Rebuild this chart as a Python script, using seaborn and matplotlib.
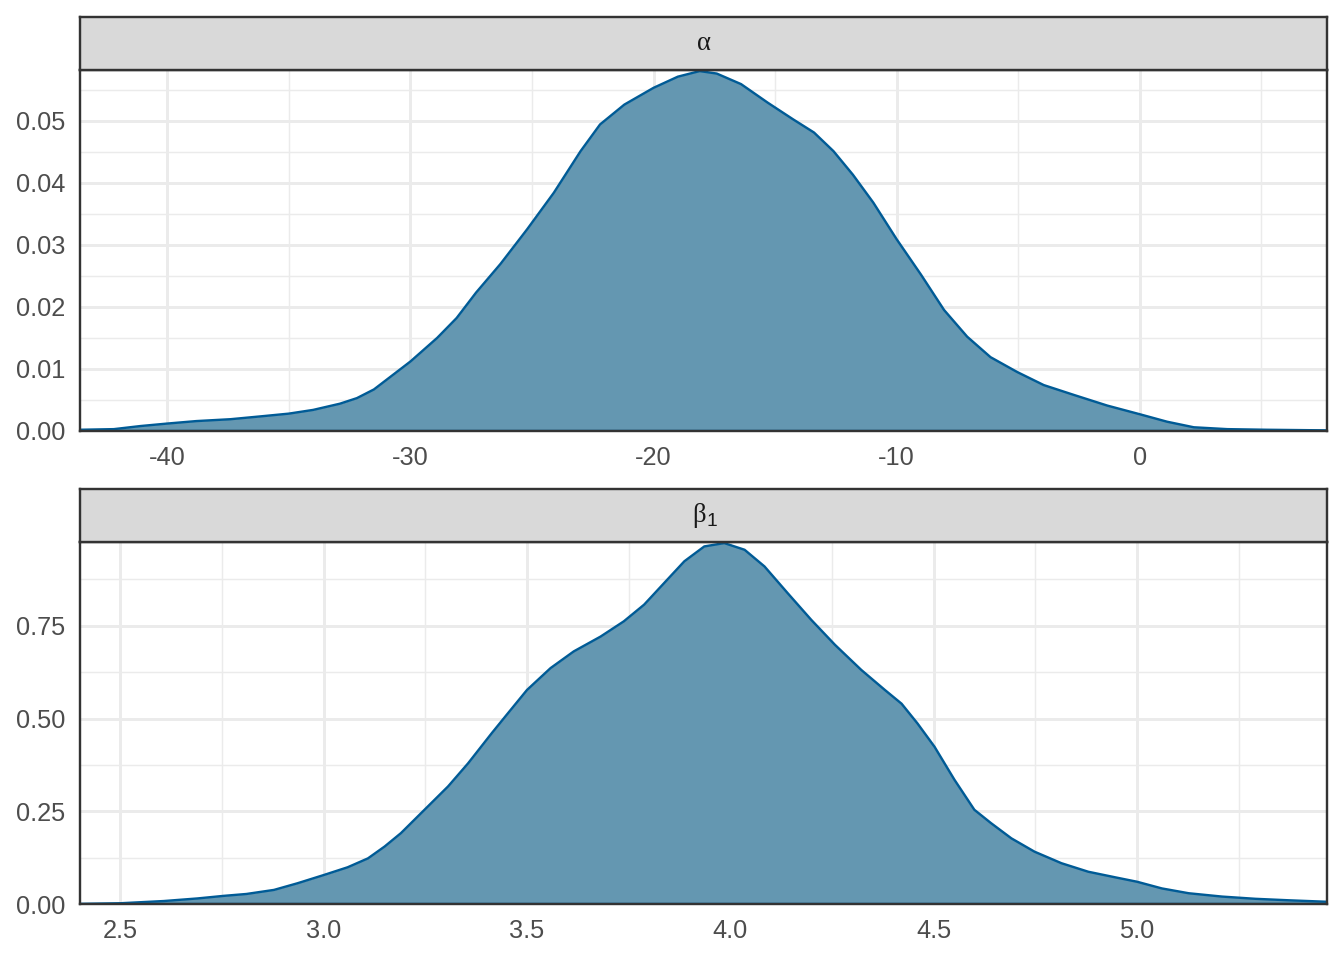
import numpy as np
import pandas as pd
import matplotlib
matplotlib.use("Agg")
import matplotlib.pyplot as plt
import seaborn as sns
from matplotlib.ticker import MultipleLocator

# posterior density of alpha
alpha_x = [-43.59, -42.2, -41.1, -40.0, -38.8, -37.4, -36.05, -35.0, -34.0, -32.9,
           -32.2, -31.5, -30.7, -30.0, -28.9, -28.1, -27.3, -26.3, -25.2, -24.1,
           -23.0, -22.2, -21.2, -20.0, -19.0, -18.1, -17.4, -16.4, -15.3, -14.25,
           -13.4, -12.6, -11.8, -10.96, -10.0, -9.0, -8.05, -7.1, -6.14, -5.04,
           -3.95, -2.7, -1.34, 0.0, 1.12, 2.22, 3.6, 5.23, 7.7]
alpha_y = [0.0002, 0.0003, 0.0008, 0.0012, 0.0016, 0.0019, 0.0024, 0.0028, 0.0034, 0.0044,
           0.0053, 0.0067, 0.0091, 0.0112, 0.0150, 0.0182, 0.0223, 0.0269, 0.0325, 0.0384,
           0.0451, 0.0494, 0.0526, 0.0553, 0.0571, 0.0580, 0.0576, 0.0559, 0.0529, 0.0502,
           0.0481, 0.0451, 0.0413, 0.0368, 0.0309, 0.0252, 0.0195, 0.0152, 0.0119, 0.0095,
           0.0074, 0.0058, 0.0041, 0.0027, 0.0015, 0.0006, 0.0003, 0.0002, 0.0001]

# posterior density of beta_1
beta_x = [2.401, 2.5, 2.607, 2.69, 2.755, 2.81, 2.878, 2.936, 3.0, 3.059,
          3.109, 3.15, 3.19, 3.248, 3.306, 3.355, 3.413, 3.45, 3.5, 3.558,
          3.615, 3.681, 3.738, 3.788, 3.837, 3.887, 3.936, 3.985, 4.035, 4.084,
          4.141, 4.199, 4.257, 4.322, 4.38, 4.421, 4.46, 4.502, 4.551, 4.6,
          4.641, 4.691, 4.748, 4.814, 4.88, 4.946, 5.0, 5.061, 5.127, 5.209,
          5.291, 5.373, 5.467]
beta_y = [0.0, 0.002, 0.008, 0.015, 0.022, 0.027, 0.038, 0.056, 0.078, 0.099,
          0.123, 0.155, 0.191, 0.254, 0.317, 0.379, 0.460, 0.510, 0.577, 0.636,
          0.681, 0.721, 0.762, 0.807, 0.865, 0.924, 0.964, 0.973, 0.955, 0.910,
          0.838, 0.766, 0.699, 0.631, 0.577, 0.540, 0.487, 0.424, 0.335, 0.254,
          0.218, 0.177, 0.141, 0.110, 0.087, 0.072, 0.060, 0.042, 0.029, 0.020,
          0.014, 0.010, 0.006]

FILL = "#6497b1"
LINE = "#005b96"
GRID = "#EBEBEB"
BORDER = "#333333"
W, H = 1344, 960


def setup_style():
    sns.set_theme(style="white")
    plt.rcParams.update({
        "font.family": ["Liberation Sans", "DejaVu Sans"],
        "font.size": 9.5,
        "xtick.color": "#333333",
        "ytick.color": "#333333",
        "xtick.labelcolor": "#4D4D4D",
        "ytick.labelcolor": "#4D4D4D",
        "xtick.labelsize": 9.5,
        "ytick.labelsize": 9.5,
        "xtick.major.size": 2.75,
        "ytick.major.size": 2.75,
        "xtick.major.width": 0.8,
        "ytick.major.width": 0.8,
        "xtick.major.pad": 3.0,
        "ytick.major.pad": 2.6,
    })


def draw_panel(fig, rect, strip_rect, df, major_x, minor_x, major_y, minor_y, xfmt):
    ax = fig.add_axes(rect)
    ax.set_axisbelow(True)
    ax.xaxis.set_major_locator(MultipleLocator(major_x))
    ax.xaxis.set_minor_locator(MultipleLocator(minor_x))
    ax.yaxis.set_major_locator(MultipleLocator(major_y))
    ax.yaxis.set_minor_locator(MultipleLocator(minor_y))
    ax.grid(which="major", color=GRID, linewidth=1.1)
    ax.grid(which="minor", color=GRID, linewidth=0.55)
    ax.tick_params(which="minor", length=0)

    ax.fill_between(df["x"], df["y"], 0, color=FILL, linewidth=0)
    sns.lineplot(data=df, x="x", y="y", ax=ax, color=LINE, linewidth=0.9,
                 sort=False, estimator=None)
    ax.plot([df["x"].iloc[0], df["x"].iloc[-1]], [0, 0], color=LINE, linewidth=0.9)

    ax.set_xlim(df["x"].min(), df["x"].max())
    ax.set_ylim(0, df["y"].max() * 1.003)
    ax.set_xlabel("")
    ax.set_ylabel("")
    ax.yaxis.set_major_formatter(plt.FormatStrFormatter("%.2f"))
    ax.xaxis.set_major_formatter(plt.FormatStrFormatter(xfmt))
    for s in ax.spines.values():
        s.set_color(BORDER)
        s.set_linewidth(0.9)

    sax = fig.add_axes(strip_rect)
    sax.set_facecolor("#D9D9D9")
    sax.set_xticks([])
    sax.set_yticks([])
    for s in sax.spines.values():
        s.set_color(BORDER)
        s.set_linewidth(0.9)
    return ax


def main():
    setup_style()
    fig = plt.figure(figsize=(7, 5), dpi=192)

    def r(x0, y0, x1, y1):
        return [x0 / W, (H - y1) / H, (x1 - x0) / W, (y1 - y0) / H]

    df_a = pd.DataFrame({"x": alpha_x, "y": alpha_y})
    df_b = pd.DataFrame({"x": beta_x, "y": beta_y})

    draw_panel(fig, r(80, 70, 1327, 431), r(80, 17, 1327, 70), df_a,
               10, 5, 0.01, 0.005, "%.0f")
    draw_panel(fig, r(80, 542, 1327, 904), r(80, 489, 1327, 542), df_b,
               0.5, 0.25, 0.25, 0.125, "%.1f")

    serif = ["Liberation Serif", "DejaVu Serif"]
    # strip labels
    fig.text(704 / W, 1 - 43.5 / H, "α", ha="center", va="center",
             fontsize=10, color="#1A1A1A", family=serif)
    fig.text(706 / W, 1 - 515.5 / H, "β", ha="right", va="center",
             fontsize=10, color="#1A1A1A", family=serif)
    fig.text(706.5 / W, 1 - 522 / H, "1", ha="left", va="center",
             fontsize=7.2, color="#1A1A1A")

    fig.savefig("out.png", dpi=192, facecolor="white")
    plt.close(fig)


if __name__ == "__main__":
    main()
